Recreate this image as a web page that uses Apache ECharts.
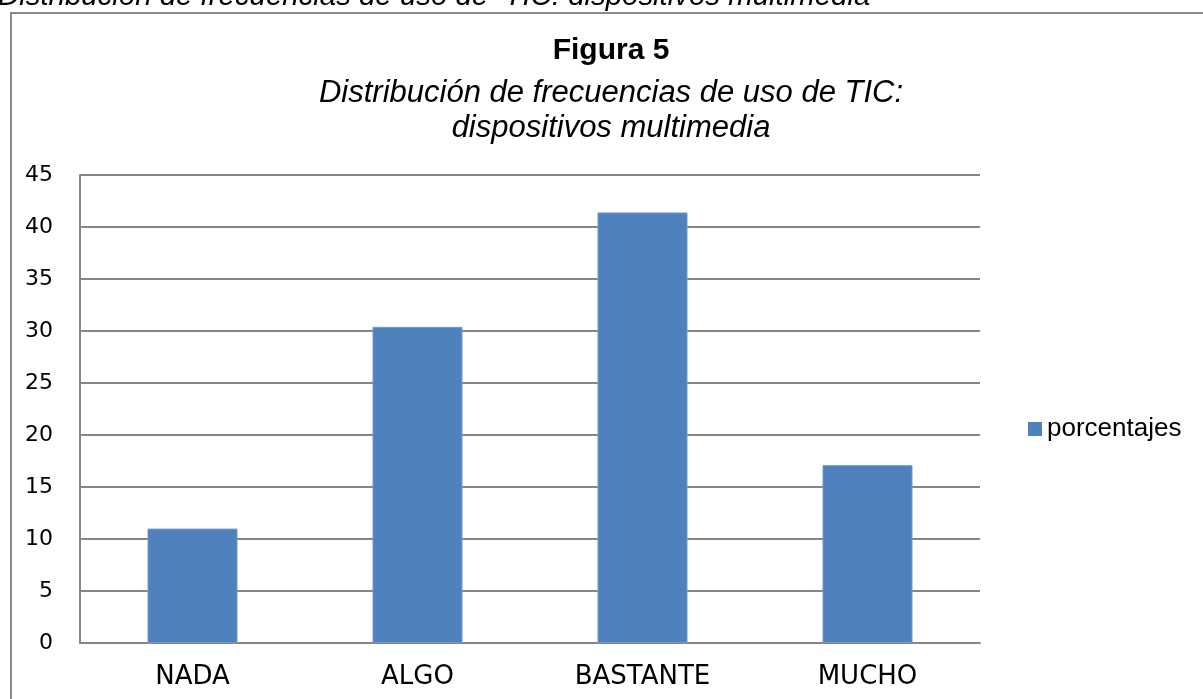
<!DOCTYPE html>
<html>
<head>
    <meta charset="utf-8">
    <title>Figura 5</title>
    <script src="https://cdn.jsdelivr.net/npm/echarts@6/dist/echarts.min.js"></script>
</head>
<body style="margin:0;background:#fff;">
<div id="main" style="width: 1203px;height:699px;"></div>
<script type="text/javascript">
  // datos
  var categorias = ['NADA', 'ALGO', 'BASTANTE', 'MUCHO'];
  var porcentajes = [11, 30.4, 41.4, 17.1];
  var nombreSerie = 'porcentajes';
  var tituloArriba = 'Distribución de frecuencias de uso de  TIC: dispositivos multimedia';
  var tituloLineas = ['Figura 5', 'Distribución de frecuencias de uso de TIC:', 'dispositivos multimedia'];

  var myChart = echarts.init(document.getElementById('main'));

  var centroTitulo = 606;
  var option = {
    backgroundColor: '#fff',
    animation: false,
    title: [
      {
        text: tituloLineas[0], left: centroTitulo, top: 31, textAlign: 'center',
        textStyle: { fontFamily: 'Liberation Sans', fontSize: 30, fontWeight: 'bold', color: '#000' }
      },
      {
        text: tituloLineas[1], left: centroTitulo, top: 73, textAlign: 'center',
        textStyle: { fontFamily: 'Liberation Sans', fontSize: 31, fontStyle: 'italic', fontWeight: 'normal', color: '#000' }
      },
      {
        text: tituloLineas[2], left: centroTitulo, top: 108, textAlign: 'center',
        textStyle: { fontFamily: 'Liberation Sans', fontSize: 31, fontStyle: 'italic', fontWeight: 'normal', color: '#000' }
      }
    ],
    graphic: [
      {
        type: 'rect', z: -10, silent: true,
        shape: { x: 11, y: 13, width: 1400, height: 900 },
        style: { fill: '#fff', stroke: '#8a8a8a', lineWidth: 2 }
      },
      {
        type: 'text', z: 10, silent: true, x: -2, y: -3,
        style: {
          text: tituloArriba, fill: '#000',
          font: 'italic 29.4px "Liberation Sans"', verticalAlign: 'middle', align: 'left'
        }
      }
    ],
    legend: {
      data: [nombreSerie],
      left: 1023, top: 411,
      icon: 'rect', itemWidth: 14, itemHeight: 14, itemGap: 5,
      itemStyle: { borderWidth: 0 },
      textStyle: { fontFamily: 'Liberation Sans', fontSize: 26, color: '#000' }
    },
    grid: { left: 80, right: 223, top: 175, bottom: 56, containLabel: false },
    xAxis: {
      type: 'category',
      data: categorias,
      axisLine: { lineStyle: { color: '#868686', width: 2 } },
      axisTick: { show: false },
      axisLabel: { fontFamily: 'DejaVu Sans', fontSize: 26, color: '#000', margin: 21 }
    },
    yAxis: {
      type: 'value',
      min: 0, max: 45, interval: 5,
      axisLine: { show: true, lineStyle: { color: '#868686', width: 2 } },
      axisTick: { show: false },
      axisLabel: { fontFamily: 'DejaVu Sans', fontSize: 22, color: '#000', margin: 27 },
      splitLine: { lineStyle: { color: '#868686', width: 2 } }
    },
    series: [
      {
        name: nombreSerie,
        type: 'bar',
        data: porcentajes,
        barWidth: '40%',
        itemStyle: { color: '#4F81BD', borderColor: '#6f9ad0', borderWidth: 1 }
      }
    ]
  };
  myChart.setOption(option);
</script>
</body>
</html>
